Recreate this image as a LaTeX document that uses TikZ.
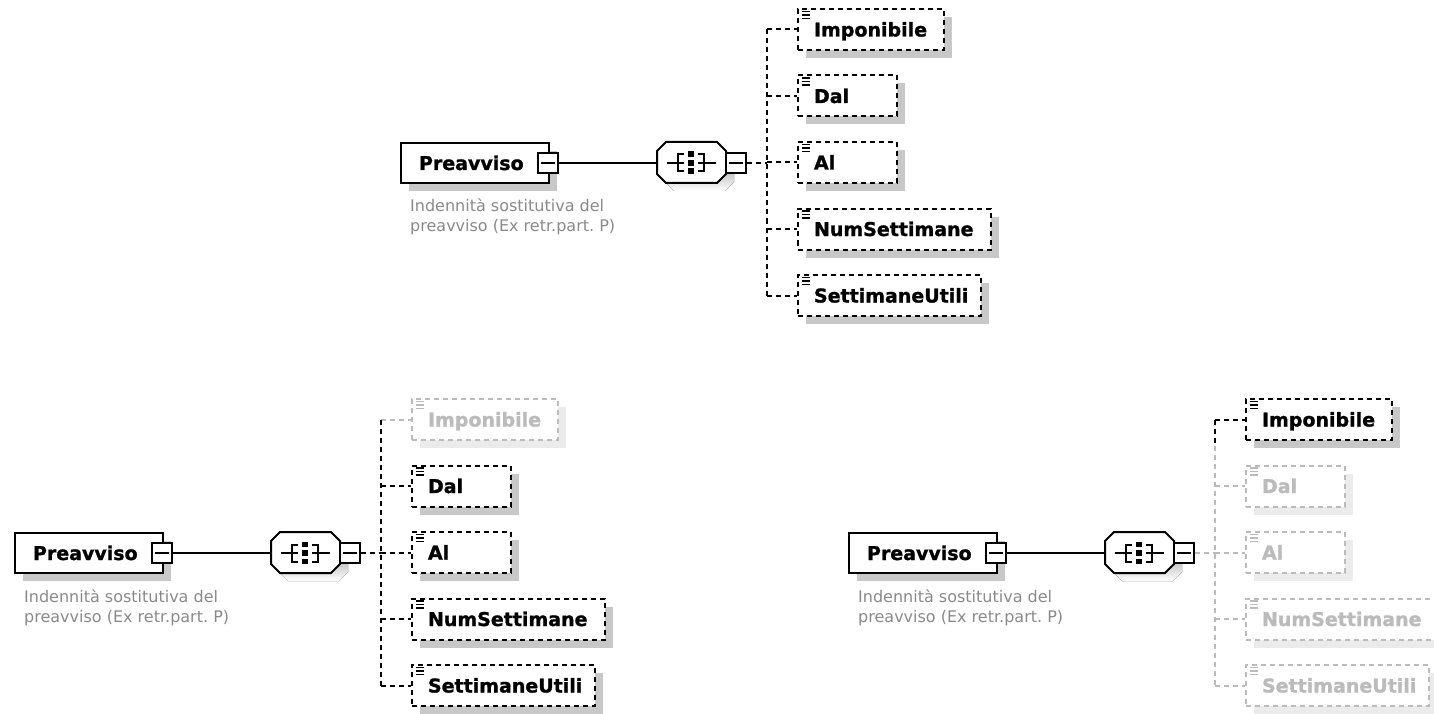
\documentclass[tikz,border=0pt]{standalone}
\usepackage{fontspec}
\setmainfont{DejaVu Sans}
\newfontfamily\xsdbold{DejaVu Sans}[UprightFont=*-Bold, FakeBold=1.2]
\usetikzlibrary{shadows,calc}
\definecolor{dim}{HTML}{BBBBBB}
\definecolor{dimshade}{HTML}{EBEBEB}
\definecolor{shade}{HTML}{C8C8C8}
\definecolor{annot}{HTML}{8A8A8A}
\tikzset{
  lw/.style={line width=2pt},
  dsh/.style={dash pattern=on 5pt off 4pt},
  elembox/.style={rectangle, draw=black, fill=white, lw, inner ysep=0pt,
    minimum height=40pt, text height=14pt, text depth=0pt, align=left,
    font=\fontsize{19}{22}\selectfont\xsdbold,
    drop shadow={shadow xshift=8pt, shadow yshift=-8pt, fill=shade, opacity=1}},
  childbox/.style={rectangle, fill=white, lw, dsh, inner ysep=0pt,
    minimum height=41pt, text height=14pt, text depth=0pt, align=left,
    inner xsep=16pt, font=\fontsize{19}{22}\selectfont\xsdbold},
  on/.style={draw=black, text=black,
    drop shadow={shadow xshift=8pt, shadow yshift=-8pt, fill=shade, opacity=1}},
  off/.style={draw=dim, text=dim,
    drop shadow={shadow xshift=8pt, shadow yshift=-8pt, fill=dimshade, opacity=1}},
  onlink/.style={draw=black},
  offlink/.style={draw=dim},
  onicon/.style={draw=black, line width=1.3pt},
  officon/.style={draw=dim, line width=1.3pt},
  pmbox/.style={rectangle, draw=black, fill=white, lw, minimum size=20pt, inner sep=0pt},
  seqbox/.style={rectangle, draw=none, minimum width=69pt, minimum height=41pt, inner sep=0pt},
  annotation/.style={inner sep=0pt, align=left, text=annot,
    font=\fontsize{16}{20}\selectfont\frenchspacing}
}
% #1 name, #2 hub, #3 y, #4 width, #5 text width, #6 state, #7 text
\newcommand\xsdchild[7]{%
  \node[childbox, #6, anchor=west, minimum width=#4pt, text width=#5pt] (#1) at (797,#3) {#7};
  \draw[#6icon] ([shift={(5,3.5)}]#1.north west) -- ++(8,0);
  \draw[#6icon] ([shift={(5,7)}]#1.north west) -- ++(8,0);
  \draw[#6icon] ([shift={(5,10.5)}]#1.north west) -- ++(8,0);
  \draw[lw, dsh, #6link] (#1.west -| #2) -- (#1.west);
}
% octagon outline from 657..726 x 142..183 (relative to diagram)
\newcommand\xsdoctagon{(666,142) -- (717,142) -- (726,151) -- (726,174) -- (717,183) -- (666,183) -- (657,174) -- (657,151) -- cycle}
% #1 prefix, #2 shift, #3..#7 states of the five children
\newcommand\xsddiagram[7]{%
  \begin{scope}[shift={(#2)}]
    \node[elembox, anchor=west, minimum width=148pt, text width=112pt, inner xsep=18pt] (#1-el) at (400,163) {Preavviso};
    \node[pmbox] (#1-elpm) at (548,163) {};
    \draw[lw] ([xshift=4pt]#1-elpm.west) -- ([xshift=-4pt]#1-elpm.east);
    \node[annotation, anchor=north west] (#1-note) at (410,199)
      {Indennità sostitutiva del\\preavviso (Ex retr.part. P)};
    \begin{scope}[shift={(8,8)}]
      \fill[shade] \xsdoctagon;
    \end{scope}
    \filldraw[fill=white, draw=black, lw] \xsdoctagon;
    \node[seqbox] (#1-seq) at (691.5,163) {};
    \node[pmbox] (#1-seqpm) at (735.5,163) {};
    \draw[lw] ([xshift=4pt]#1-seqpm.west) -- ([xshift=-4pt]#1-seqpm.east);
    \draw[lw] (#1-elpm.east) -- (#1-seq.west);
    % sequence icon
    \draw[lw] (667,163) -- (684,163);
    \draw[lw] (678,153.5) -- (678,172.5);
    \draw[lw] (677,154.5) -- (684,154.5);
    \draw[lw] (677,171.5) -- (684,171.5);
    \fill (688,151.5) rectangle (694,157);
    \fill (688,160) rectangle (694,166);
    \fill (688,168.5) rectangle (694,174);
    \draw[lw] (704,153.5) -- (704,172.5);
    \draw[lw] (698,154.5) -- (705,154.5);
    \draw[lw] (698,171.5) -- (705,171.5);
    \draw[lw] (698,163) -- (716,163);
    \coordinate (#1-hub) at (767,163);
    \xsdchild{#1-c1}{#1-hub}{29.5}{146}{114}{#3}{Imponibile}
    \xsdchild{#1-c2}{#1-hub}{96}{99}{67}{#4}{Dal}
    \xsdchild{#1-c3}{#1-hub}{162.5}{99}{67}{#5}{Al}
    \xsdchild{#1-c4}{#1-hub}{229}{193}{161}{#6}{NumSettimane}
    \xsdchild{#1-c5}{#1-hub}{295.5}{183}{151}{#7}{SettimaneUtili}
  \end{scope}}

\begin{document}
\begin{tikzpicture}[x=1pt,y=-1pt]
  \useasboundingbox (0,0) rectangle (1434,714);
  \clip (0,0) rectangle (1434,714);
  \fill[white] (0,0) rectangle (1434,714);

  % top diagram
  \xsddiagram{t}{0,0}{on}{on}{on}{on}{on}
  \draw[lw, dsh] (t-hub |- t-c1.west) -- (t-hub |- t-c5.west);
  \draw[lw, dsh] (t-seqpm.east) -- (t-hub);

  % bottom-left diagram
  \xsddiagram{l}{-386,390}{off}{on}{on}{on}{on}
  \draw[lw, dsh] (l-hub |- l-c1.west) -- (l-hub |- l-c5.west);
  \draw[lw, dsh] (l-seqpm.east) -- (l-hub);

  % bottom-right diagram
  \xsddiagram{r}{448,390}{on}{off}{off}{off}{off}
  \coordinate (r-split) at ($(r-hub |- r-c1.west)!0.4!(r-hub |- r-c2.west)$);
  \draw[lw, dsh] (r-hub |- r-c1.west) -- (r-split);
  \draw[lw, dsh, draw=dim] (r-split) -- (r-hub |- r-c5.west);
  \draw[lw, dsh, draw=dim] (r-seqpm.east) -- (r-hub);
\end{tikzpicture}
\end{document}
